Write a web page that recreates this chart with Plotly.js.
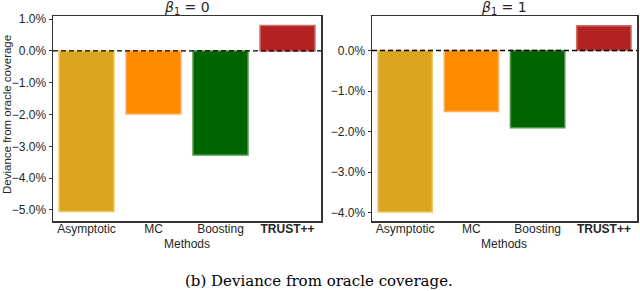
<!DOCTYPE html>
<html><head><meta charset="utf-8">
<script src="https://cdn.plot.ly/plotly-3.0.1.min.js"></script>
<style>body{margin:0;background:#fff}#c{width:640px;height:291px}</style>
</head><body><div id="c"></div>
<script>
const methods = ["Asymptotic", "MC", "Boosting", "TRUST++"];
const methodLabels = ["Asymptotic", "MC", "Boosting", "<b>TRUST++</b>"];
const deviance_beta0 = [-5.05, -1.98, -3.27, 0.8];
const deviance_beta1 = [-3.98, -1.5, -1.9, 0.61];
const tickVals0 = [1, 0, -1, -2, -3, -4, -5];
const tickVals1 = [0, -1, -2, -3, -4];
const fmt = v => (v < 0 ? "\u2212" : "") + Math.abs(v).toFixed(1) + "%";
const colors = ["#DAA520", "#FF8C00", "#006400", "#B22222"];
const edgeColors = ["#EFC865", "#FFB05A", "#4E944E", "#D26A6A"];
const font = "Liberation Sans, Arial, sans-serif";

const mk = (y, xa, ya) => ({
  type: "bar", x: methods, y: y, xaxis: xa, yaxis: ya,
  marker: {color: colors, line: {color: edgeColors, width: 1.5}},
  width: 0.82, showlegend: false, hoverinfo: "skip"
});

const axBase = {
  showline: true, mirror: true, linecolor: "#333", linewidth: 1.5,
  showgrid: false, zeroline: false,
  tickfont: {family: font, size: 12, color: "#262626"}
};
const xBase = Object.assign({}, axBase, {ticks: "", ticklabelstandoff: -4});
const yBase = Object.assign({}, axBase, {ticks: "outside", ticklen: 3, tickwidth: 1, tickcolor: "#333"});

const layout = {
  width: 640, height: 291, margin: {l: 0, r: 0, t: 0, b: 0},
  paper_bgcolor: "#fff", plot_bgcolor: "#fff",
  xaxis: Object.assign({}, xBase, {domain: [53/640, 321/640], range: [-0.5, 3.5], anchor: "y",
    tickvals: methods, ticktext: methodLabels}),
  yaxis: Object.assign({}, yBase, {domain: [1 - 221/291, 1 - 16/291], range: [-5.35, 1.1], anchor: "x",
    tickvals: tickVals0, ticktext: tickVals0.map(fmt)}),
  xaxis2: Object.assign({}, xBase, {domain: [372/640, 637/640], range: [-0.5, 3.5], anchor: "y2",
    tickvals: methods, ticktext: methodLabels}),
  yaxis2: Object.assign({}, yBase, {domain: [1 - 221/291, 1 - 16/291], range: [-4.2, 0.85], anchor: "x2",
    tickvals: tickVals1, ticktext: tickVals1.map(fmt)}),
  shapes: [
    {type: "line", xref: "x domain", yref: "y", x0: 0, x1: 1, y0: 0, y1: 0,
     line: {color: "#000", width: 1.3, dash: "5px,3px"}},
    {type: "line", xref: "x2 domain", yref: "y2", x0: 0, x1: 1, y0: 0, y1: 0,
     line: {color: "#000", width: 1.3, dash: "5px,3px"}}
  ],
  annotations: [
    {text: "<i>β</i><sub>1</sub> = 0", xref: "paper", yref: "paper", x: 187/640, y: 1 - 8/291,
     showarrow: false, xanchor: "center", yanchor: "middle", font: {family: "DejaVu Sans", size: 14, color: "#262626"}},
    {text: "<i>β</i><sub>1</sub> = 1", xref: "paper", yref: "paper", x: 504/640, y: 1 - 8/291,
     showarrow: false, xanchor: "center", yanchor: "middle", font: {family: "DejaVu Sans", size: 14, color: "#262626"}},
    {text: "Methods", xref: "paper", yref: "paper", x: 187/640, y: 1 - 244/291,
     showarrow: false, xanchor: "center", yanchor: "middle", font: {family: font, size: 12, color: "#262626"}},
    {text: "Methods", xref: "paper", yref: "paper", x: 504/640, y: 1 - 244/291,
     showarrow: false, xanchor: "center", yanchor: "middle", font: {family: font, size: 12, color: "#262626"}},
    {text: "Deviance from oracle coverage", xref: "paper", yref: "paper", x: 7/640, y: 1 - 115/291,
     showarrow: false, textangle: -90, xanchor: "center", yanchor: "middle", font: {family: font, size: 11.5, color: "#262626"}},
    {text: "(b) Deviance from oracle coverage.", xref: "paper", yref: "paper", x: 319/640, y: 1 - 281/291,
     showarrow: false, xanchor: "center", yanchor: "middle", font: {family: "DejaVu Serif", size: 15, color: "#000"}}
  ]
};

Plotly.newPlot("c", [mk(deviance_beta0, "x", "y"), mk(deviance_beta1, "x2", "y2")], layout, {staticPlot: true, displayModeBar: false});
</script></body></html>
